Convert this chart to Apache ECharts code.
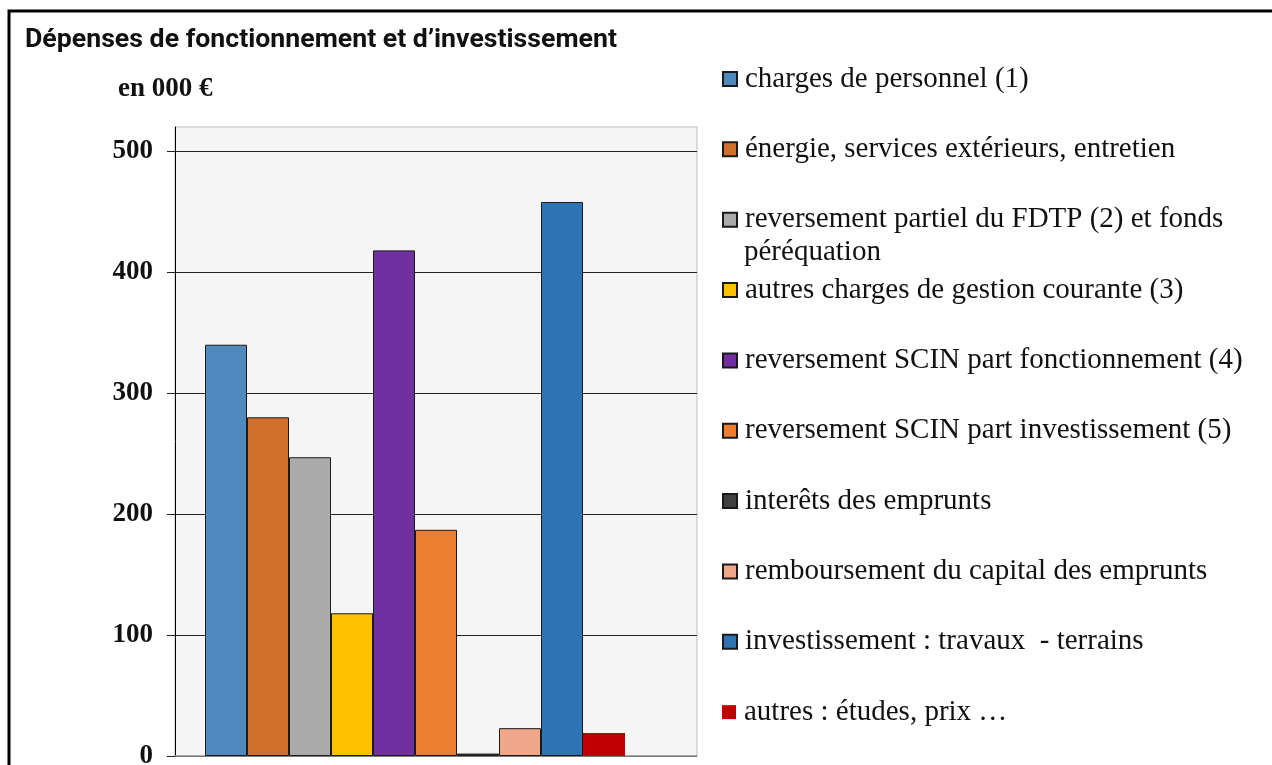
<!DOCTYPE html>
<html>
<head>
<meta charset="utf-8">
<script src="https://cdn.jsdelivr.net/npm/echarts@6/dist/echarts.min.js"></script>
<style>
  html, body { margin: 0; padding: 0; background: #fff; }
  #chart { width: 1272px; height: 765px; }
</style>
</head>
<body>
<div id="chart"></div>
<script>
// data (en 000 €)
const categories = [
  "charges de personnel (1)",
  "énergie, services extérieurs, entretien",
  "reversement partiel du FDTP (2) et fonds péréquation",
  "autres charges de gestion courante (3)",
  "reversement SCIN part fonctionnement (4)",
  "reversement SCIN part investissement (5)",
  "interêts des emprunts",
  "remboursement du capital des emprunts",
  "investissement : travaux  - terrains",
  "autres : études, prix …"
];
const values = [340, 280, 247, 118, 418, 187, 2, 23, 458, 19];
const colors = ["#4F89BE", "#D2702B", "#ABABAB", "#FFC000", "#7030A0",
                "#ED7D31", "#404040", "#F0A789", "#2E74B5", "#C00000"];
const yTicks = [0, 100, 200, 300, 400, 500];

const chart = echarts.init(document.getElementById("chart"));

const serif = "'Liberation Serif', 'Times New Roman', serif";
const legendFont = { fontFamily: serif, fontSize: 29, color: "#111", lineHeight: 33 };

// one bar series per poste, plus an empty slot at the end (as in the source)
const series = categories.map((name, i) => ({
  name: name,
  type: "bar",
  barWidth: 42,
  barGap: "0%",
  data: [values[i]],
  itemStyle: {
    color: colors[i],
    borderColor: i === 9 ? colors[i] : "#1a1a1a",
    borderWidth: i === 9 ? 0 : 1
  }
}));
series.push({ name: "_vide", type: "bar", barWidth: 42, barGap: "0%", data: [null] });

// one legend block per item so the spacing matches the original
const legendY = (i) => 79 + i * 70.35;
const legends = categories.map((name, i) => ({
  data: [name],
  orient: "vertical",
  left: 722,
  top: legendY(i) - 16.5,
  padding: 0,
  icon: "rect",
  itemWidth: 14,
  itemHeight: 14,
  selectedMode: false,
  // the long label goes on two lines, the second one is drawn below
  formatter: i === 2 ? () => "reversement partiel du FDTP (2) et fonds" : "{name}",
  textStyle: Object.assign({ padding: [0, 0, 0, 3] }, legendFont)
}));

chart.setOption({
  animation: false,
  backgroundColor: "#fff",
  title: {
    text: "Dépenses de fonctionnement et d\u2019investissement",
    left: 25,
    top: 27,
    padding: 0,
    textStyle: { fontFamily: "Roboto", fontWeight: "bold", fontSize: 26.7, color: "#111" }
  },
  graphic: [
    {
      type: "rect",
      shape: { x: 9, y: 11, width: 1400, height: 1000 },
      style: { fill: null, stroke: "#000", lineWidth: 3 },
      silent: true
    },
    {
      type: "text",
      left: 118,
      top: 76,
      style: { text: "en 000 €", font: "bold 27px " + serif, fill: "#111" }
    },
    {
      type: "text",
      left: 744,
      top: legendY(2) + 33 - 16.5,
      style: { text: "péréquation", font: "29px " + serif, fill: "#111", lineHeight: 33 }
    }
  ],
  legend: legends,
  grid: {
    left: 175,
    right: 575,
    top: 127,
    bottom: 9,
    outerBoundsMode: "none",
    show: true,
    backgroundColor: "#F5F5F5",
    borderColor: "#BDBDBD",
    borderWidth: 1
  },
  xAxis: {
    type: "category",
    data: [""],
    axisLine: { lineStyle: { color: "#999", width: 1.5 } },
    axisTick: { show: false },
    axisLabel: { show: false }
  },
  yAxis: {
    type: "value",
    min: 0,
    max: 520,
    interval: 100,
    axisLine: { show: true, lineStyle: { color: "#000", width: 1 } },
    axisTick: { show: true, length: 8, customValues: yTicks, lineStyle: { color: "#222" } },
    axisLabel: {
      customValues: yTicks,
      margin: 22,
      fontFamily: serif,
      fontWeight: "bold",
      fontSize: 27,
      color: "#111"
    },
    splitLine: { show: true, lineStyle: { color: "#222", width: 1 } }
  },
  series: series
});
</script>
</body>
</html>
